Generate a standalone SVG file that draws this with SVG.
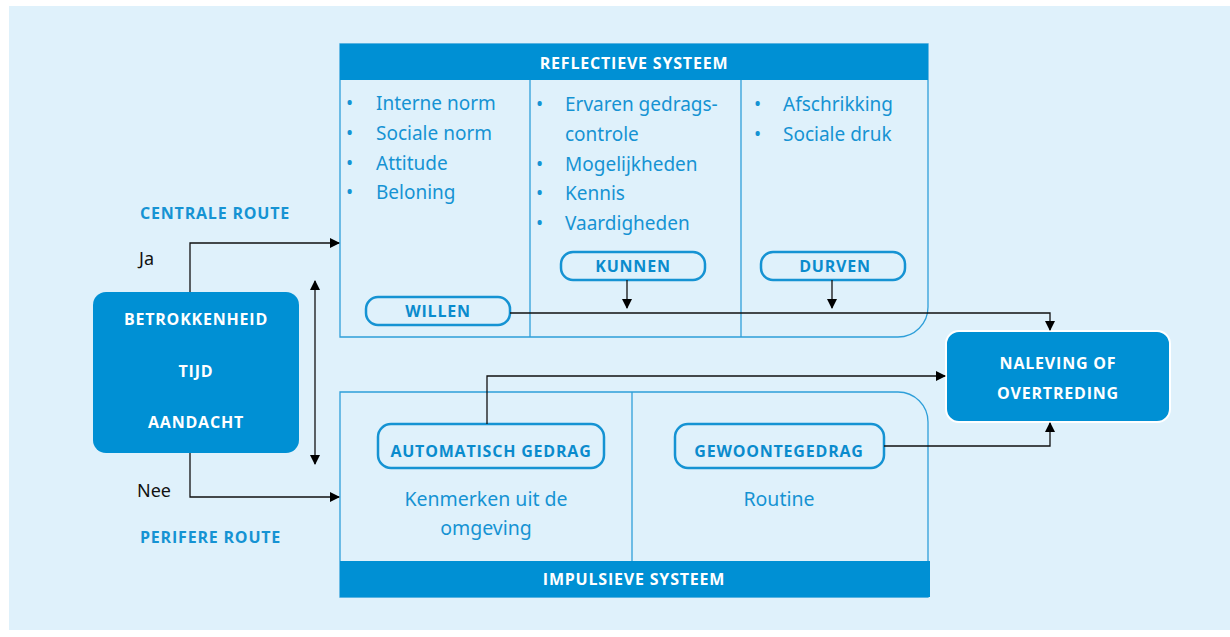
<svg xmlns="http://www.w3.org/2000/svg" width="1230" height="637" viewBox="0 0 1230 637">
<style>
.bg{fill:#dff1fb}
.panel{fill:#dff1fb;stroke:#2e9fd9;stroke-width:1.3}
.hdr{fill:#0090d4}
.hdrt{font-family:"Open Sans",sans-serif;font-weight:bold;font-size:16px;fill:#fff;text-anchor:middle;letter-spacing:0.8px}
.pill{fill:#dff1fb;stroke:#1593d3;stroke-width:2.5}
.pillt{font-family:"Open Sans",sans-serif;font-weight:bold;font-size:16px;fill:#0a8bcd;text-anchor:middle;letter-spacing:0.8px}
.item{font-family:"Noto Sans",sans-serif;font-size:19px;fill:#1593d3}
.itemc{font-family:"Noto Sans",sans-serif;font-size:19.5px;fill:#1593d3;text-anchor:middle}
.route{font-family:"Open Sans",sans-serif;font-weight:bold;font-size:16px;fill:#1593d3;letter-spacing:0.8px}
.lbl{font-family:"Noto Sans",sans-serif;font-size:18px;fill:#111}
.box{fill:#0090d4}
.boxt{font-family:"Open Sans",sans-serif;font-weight:bold;font-size:16px;fill:#fff;text-anchor:middle;letter-spacing:0.8px}
.conn path{fill:none;stroke:#111;stroke-width:1.3}
</style>
<defs>
<marker id="ah" viewBox="0 0 10 10" refX="9" refY="5" markerWidth="10" markerHeight="10" markerUnits="userSpaceOnUse" orient="auto-start-reverse">
<path d="M0,0 L10,5 L0,10 z" fill="#000"/>
</marker>
</defs>
<rect class="bg" x="9" y="6" width="1221" height="624"/>

<g id="reflectief">
<path class="panel" d="M340,44 H928 V307 A30,30 0 0 1 898,337 H340 Z"/>
<line class="panel" x1="530" y1="80" x2="530" y2="337"/>
<line class="panel" x1="741" y1="80" x2="741" y2="337"/>
<rect class="hdr" x="340" y="44" width="588" height="36"/>
<text class="hdrt" x="634" y="69">REFLECTIEVE SYSTEEM</text>
<g class="item">
<text x="346" y="110">•</text><text x="376" y="110">Interne norm</text>
<text x="346" y="140">•</text><text x="376" y="140">Sociale norm</text>
<text x="346" y="170">•</text><text x="376" y="170">Attitude</text>
<text x="346" y="199">•</text><text x="376" y="199">Beloning</text>
<text x="536" y="111">•</text><text x="565" y="111">Ervaren gedrags-</text>
<text x="565" y="141">controle</text>
<text x="536" y="171">•</text><text x="565" y="171">Mogelijkheden</text>
<text x="536" y="200">•</text><text x="565" y="200">Kennis</text>
<text x="536" y="230">•</text><text x="565" y="230">Vaardigheden</text>
<text x="754" y="111">•</text><text x="783" y="111">Afschrikking</text>
<text x="754" y="141">•</text><text x="783" y="141">Sociale druk</text>
</g>
</g>

<g id="willen"><rect class="pill" x="366" y="297" width="144" height="28" rx="12"/><text class="pillt" x="438" y="317">WILLEN</text></g>
<g id="kunnen"><rect class="pill" x="561" y="252" width="144" height="28" rx="12"/><text class="pillt" x="633" y="272">KUNNEN</text></g>
<g id="durven"><rect class="pill" x="761" y="252" width="144" height="28" rx="12"/><text class="pillt" x="835" y="272">DURVEN</text></g>

<g id="impulsief">
<path class="panel" d="M340,392 H898 A30,30 0 0 1 928,422 V597 H340 Z"/>
<line class="panel" x1="632" y1="392" x2="632" y2="561"/>
<rect class="hdr" x="340" y="561" width="590" height="36"/>
<text class="hdrt" x="634" y="585">IMPULSIEVE SYSTEEM</text>
<text class="itemc" x="486" y="506">Kenmerken uit de</text>
<text class="itemc" x="486" y="535">omgeving</text>
<text class="itemc" x="779" y="506">Routine</text>
</g>

<g id="automatisch"><rect class="pill" x="378" y="424" width="226" height="44" rx="13"/><text class="pillt" x="491" y="457">AUTOMATISCH GEDRAG</text></g>
<g id="gewoonte"><rect class="pill" x="675" y="424" width="209" height="44" rx="13"/><text class="pillt" x="779" y="457">GEWOONTEGEDRAG</text></g>

<g id="betrokkenheid">
<rect class="box" x="93" y="292" width="206" height="161" rx="13"/>
<text class="boxt" x="196" y="325">BETROKKENHEID</text>
<text class="boxt" x="196" y="377">TIJD</text>
<text class="boxt" x="196" y="428">AANDACHT</text>
</g>

<g id="naleving">
<rect class="box" x="946" y="331" width="224" height="91" rx="13" stroke="#fff" stroke-width="2"/>
<text class="boxt" x="1058" y="369">NALEVING OF</text>
<text class="boxt" x="1058" y="399">OVERTREDING</text>
</g>

<g id="labels">
<text class="route" x="140" y="219">CENTRALE ROUTE</text>
<text class="route" x="140" y="543">PERIFERE ROUTE</text>
<text class="lbl" x="139" y="265">Ja</text>
<text class="lbl" x="137" y="497">Nee</text>
</g>

<g class="conn" id="connectors">
<path d="M190,292 V243 H339" marker-end="url(#ah)"/>
<path d="M190,453 V497 H339" marker-end="url(#ah)"/>
<path d="M315,281 V464" marker-start="url(#ah)" marker-end="url(#ah)"/>
<path d="M510,313 H1050 V330" marker-end="url(#ah)"/>
<path d="M627,280 V308" marker-end="url(#ah)"/>
<path d="M832,280 V308" marker-end="url(#ah)"/>
<path d="M487,424 V376 H945" marker-end="url(#ah)"/>
<path d="M884,446 H1050 V423" marker-end="url(#ah)"/>
</g>
</svg>
